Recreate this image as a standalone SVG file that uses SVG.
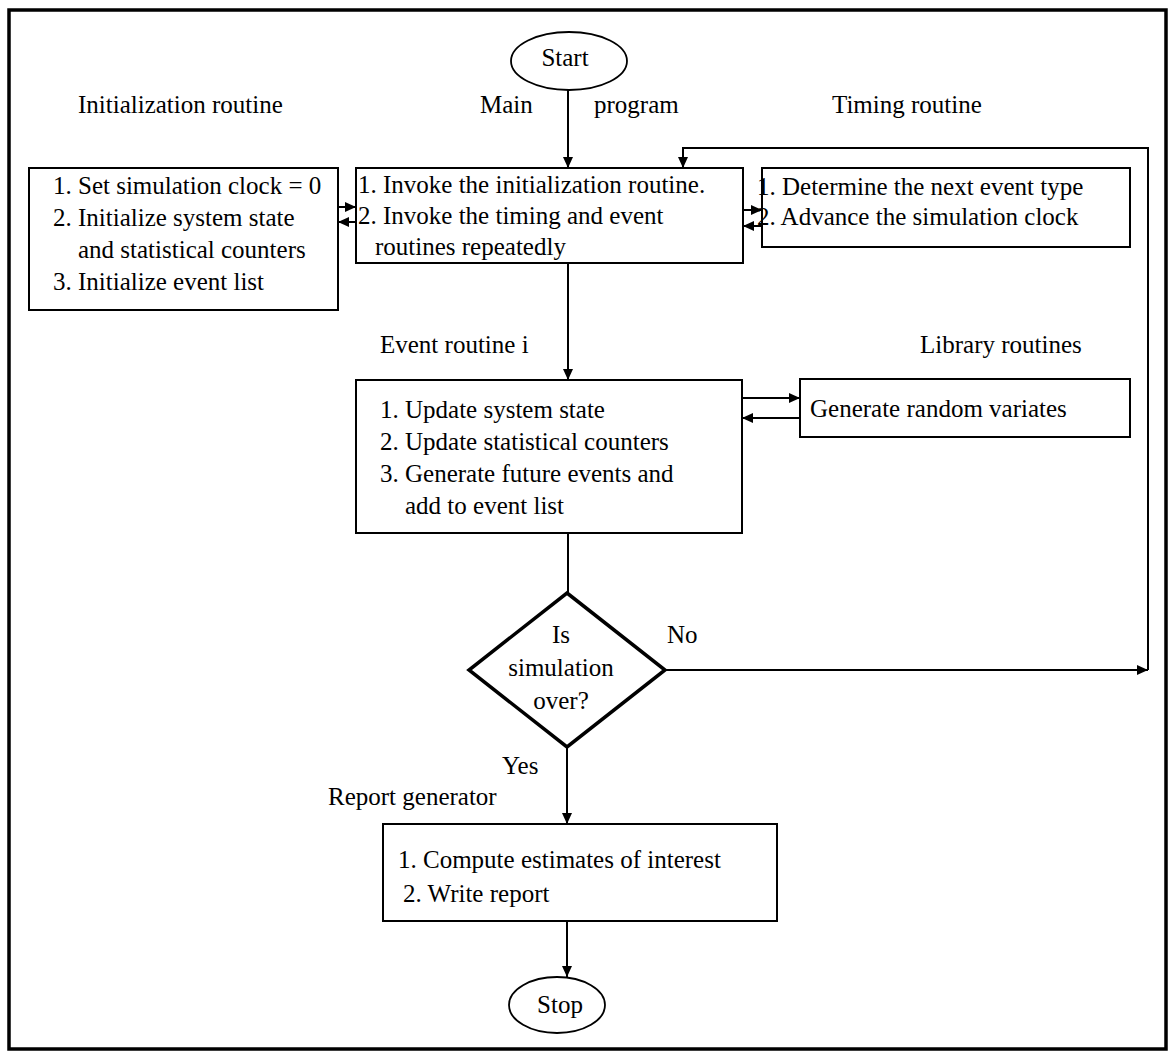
<svg xmlns="http://www.w3.org/2000/svg" width="1171" height="1052" viewBox="0 0 1171 1052">
  <style>
    text { font-family: "Liberation Serif", "Times New Roman", serif; font-size: 25px; fill: #000; }
    .box { fill: #fff; stroke: #000; stroke-width: 2; }
    .term { fill: #fff; stroke: #000; stroke-width: 1.8; }
    .dec { fill: #fff; stroke: #000; stroke-width: 3.5; stroke-linejoin: miter; }
    .wire { fill: none; stroke: #000; stroke-width: 2; }
    .mid { text-anchor: middle; }
  </style>
  <defs>
    <marker id="arrow" markerWidth="11" markerHeight="10" refX="11" refY="5" orient="auto" markerUnits="userSpaceOnUse">
      <path d="M0,0 L11,5 L0,10 z" fill="#000"/>
    </marker>
  </defs>

  <rect width="1171" height="1052" fill="#fff"/>
  <!-- outer frame -->
  <rect x="9" y="10" width="1157" height="1039" fill="none" stroke="#000" stroke-width="3.5"/>

  <!-- section labels -->
  <g id="labels">
    <text x="78" y="113">Initialization routine</text>
    <text x="480" y="113">Main</text>
    <text x="594" y="113">program</text>
    <text x="832" y="113">Timing routine</text>
    <text x="380" y="353">Event routine i</text>
    <text x="920" y="353">Library routines</text>
    <text x="667" y="643">No</text>
    <text x="502" y="774">Yes</text>
    <text x="328" y="805">Report generator</text>
  </g>

  <!-- connectors -->
  <g id="connectors">
    <line class="wire" x1="568" y1="90" x2="568" y2="168" marker-end="url(#arrow)"/>
    <line class="wire" x1="338" y1="207" x2="356" y2="207" marker-end="url(#arrow)"/>
    <line class="wire" x1="356" y1="222" x2="338" y2="222" marker-end="url(#arrow)"/>
    <line class="wire" x1="743" y1="210" x2="762" y2="210" marker-end="url(#arrow)"/>
    <line class="wire" x1="762" y1="226" x2="743" y2="226" marker-end="url(#arrow)"/>
    <line class="wire" x1="568" y1="263" x2="568" y2="380" marker-end="url(#arrow)"/>
    <line class="wire" x1="742" y1="398" x2="800" y2="398" marker-end="url(#arrow)"/>
    <line class="wire" x1="800" y1="418" x2="742" y2="418" marker-end="url(#arrow)"/>
    <line class="wire" x1="568" y1="533" x2="568" y2="593"/>
    <line class="wire" x1="665" y1="670" x2="1148" y2="670" marker-end="url(#arrow)"/>
    <polyline class="wire" points="1148,670 1148,148 683,148 683,168" marker-end="url(#arrow)"/>
    <line class="wire" x1="567" y1="747" x2="567" y2="824" marker-end="url(#arrow)"/>
    <line class="wire" x1="567" y1="921" x2="567" y2="977" marker-end="url(#arrow)"/>
  </g>

  <!-- terminals -->
  <g id="start">
    <ellipse class="term" cx="569" cy="61" rx="58" ry="29"/>
    <text class="mid" x="565" y="66">Start</text>
  </g>
  <g id="stop">
    <ellipse class="term" cx="557" cy="1005" rx="48" ry="28"/>
    <text class="mid" x="560" y="1013">Stop</text>
  </g>

  <!-- process boxes -->
  <g id="init-routine">
    <rect class="box" x="29" y="168" width="309" height="142"/>
    <text x="53" y="194">1. Set simulation clock = 0</text>
    <text x="53" y="226">2. Initialize system state</text>
    <text x="78" y="258">and statistical counters</text>
    <text x="53" y="290">3. Initialize event list</text>
  </g>

  <g id="main-program">
    <rect class="box" x="356" y="168" width="387" height="95"/>
    <text x="358" y="193">1. Invoke the initialization routine.</text>
    <text x="358" y="224">2. Invoke the timing and event</text>
    <text x="375" y="255">routines repeatedly</text>
  </g>

  <g id="timing-routine">
    <rect class="box" x="762" y="168" width="368" height="79"/>
    <text x="757" y="195">1. Determine the next event type</text>
    <text x="757" y="225">2. Advance the simulation clock</text>
  </g>

  <g id="event-routine">
    <rect class="box" x="356" y="380" width="386" height="153"/>
    <text x="380" y="418">1. Update system state</text>
    <text x="380" y="450">2. Update statistical counters</text>
    <text x="380" y="482">3. Generate future events and</text>
    <text x="405" y="514">add to event list</text>
  </g>

  <g id="library-routines">
    <rect class="box" x="800" y="379" width="330" height="58"/>
    <text x="810" y="417">Generate random variates</text>
  </g>

  <g id="decision">
    <polygon class="dec" points="567,593 665,670 567,747 469,670"/>
    <text class="mid" x="561" y="643">Is</text>
    <text class="mid" x="561" y="676">simulation</text>
    <text class="mid" x="561" y="709">over?</text>
  </g>

  <g id="report-generator">
    <rect class="box" x="383" y="824" width="394" height="97"/>
    <text x="398" y="868">1. Compute estimates of interest</text>
    <text x="403" y="902">2. Write report</text>
  </g>
</svg>
